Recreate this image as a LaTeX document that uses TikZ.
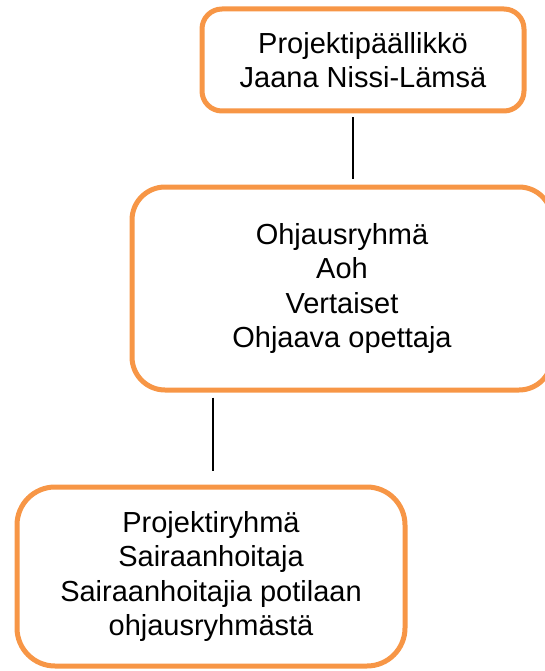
\documentclass[tikz,border=0pt]{standalone}
\usepackage{fontspec}
\setmainfont{Liberation Sans}
\definecolor{boxorange}{HTML}{F79646}
\begin{document}
\begin{tikzpicture}[x=1pt,y=-1pt,
  orgbox/.style={draw=boxorange, line width=5pt, fill=white, align=center,
    font=\fontsize{29}{34.5}\selectfont, inner sep=0pt},
  link/.style={draw=black, line width=1.5pt}]
\useasboundingbox (0,0) rectangle (544,671);
\node[orgbox, rounded corners=20pt, minimum width=322pt, minimum height=102pt] (b1) at (363,60) {Projektipäällikkö\\Jaana Nissi-Lämsä};
\node[orgbox, rounded corners=33pt, minimum width=420pt, minimum height=203pt] (b2) at (342,288.5) {Ohjausryhmä\\Aoh\\Vertaiset\\Ohjaava opettaja};
\node[orgbox, rounded corners=38pt, minimum width=388pt, minimum height=179pt] (b3) at (211,576.5) {Projektiryhmä\\Sairaanhoitaja\\Sairaanhoitajia potilaan\\ohjausryhmästä};
\coordinate (c1) at (353,0);
\coordinate (c2) at (213,0);
\draw[link, shorten <=4pt, shorten >=6pt] (b1.south -| c1) -- (b2.north -| c1);
\draw[link, shorten <=5pt, shorten >=14pt] (b2.south -| c2) -- (b3.north -| c2);
\end{tikzpicture}
\end{document}
